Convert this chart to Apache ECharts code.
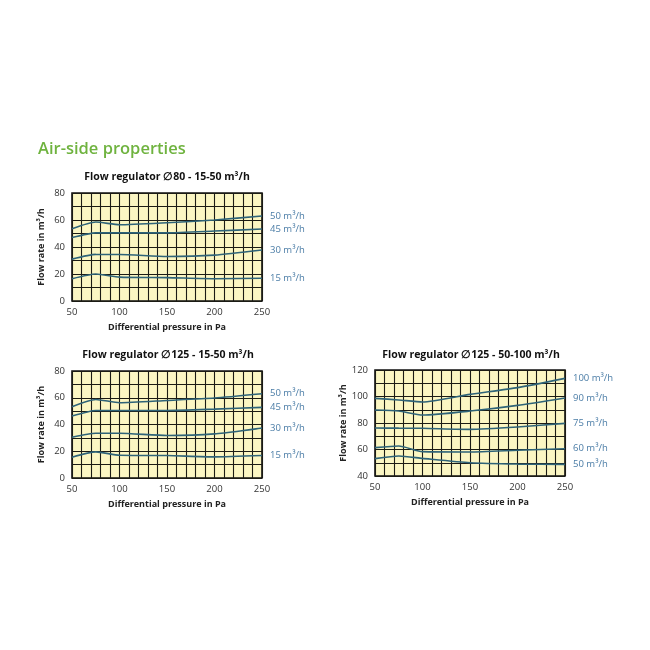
<!DOCTYPE html>
<html lang="en">
<head>
    <meta charset="UTF-8">
    <title>Air-side properties</title>
    <style>
        html, body { margin: 0; padding: 0; background: #fff; }
    </style>
</head>
<body>
<div id='main' style="height: 650px;width: 650px"></div>
</body>
<script src="https://cdn.jsdelivr.net/npm/echarts@6.0.0/dist/echarts.min.js"></script>
<script>
    // pressure points (Pa)
    var pressure = [50, 75, 100, 150, 200, 250];

    // Flow regulator 80 - 15-50 m3/h
    var c1Names = ['50 m³/h', '45 m³/h', '30 m³/h', '15 m³/h'];
    var c1_50 = [53.5, 58.5, 56.5, 58, 60, 63];
    var c1_45 = [47, 50.5, 50.5, 50.5, 51.8, 53.3];
    var c1_30 = [31, 34.5, 34.5, 33, 34, 37.8];
    var c1_15 = [16.5, 20, 17.7, 17.3, 16.5, 16.8];

    // Flow regulator 125 - 15-50 m3/h
    var c2Names = ['50 m³/h', '45 m³/h', '30 m³/h', '15 m³/h'];
    var c2_50 = [53.3, 58.7, 56.3, 58, 59.8, 63];
    var c2_45 = [46.3, 50.5, 50.5, 50.5, 51.5, 52.8];
    var c2_30 = [30.5, 33.5, 33.5, 31.8, 33, 37.3];
    var c2_15 = [15.5, 19.5, 17, 16.8, 15.8, 16.8];

    // Flow regulator 125 - 50-100 m3/h
    var c3Names = ['100 m³/h', '90 m³/h', '75 m³/h', '60 m³/h', '50 m³/h'];
    var c3_100 = [98.6, 97.4, 95.8, 101.6, 106.7, 113.7];
    var c3_90 = [89.8, 89, 86, 89, 93.3, 98.9];
    var c3_75 = [76.2, 76.1, 76, 75.2, 77, 79.7];
    var c3_60 = [61.4, 62.6, 58.4, 58.1, 59.4, 60.6];
    var c3_50 = [53.1, 55.1, 53.3, 50, 49, 48.8];

    var FONT = 'Open Sans';
    var lineColor = '#2e6378';
    var labelColor = '#4a7ca6';
    var gridLine = {show: true, lineStyle: {color: '#1b1b14', width: 1.1}};

    function pairs(ys) {
        return pressure.map(function (p, i) { return [p, ys[i]]; });
    }

    function xAxisFor(idx) {
        return {
            gridIndex: idx, type: 'value', min: 50, max: 250, interval: 50,
            name: 'Differential pressure in Pa', nameLocation: 'middle', nameGap: 22,
            nameTextStyle: {fontFamily: FONT, fontWeight: 'bold', fontSize: 9, color: '#222'},
            axisLine: {show: false}, axisTick: {show: false},
            axisLabel: {fontFamily: FONT, fontSize: 9.5, color: '#333', margin: 6},
            splitLine: gridLine,
            minorTick: {show: false, splitNumber: 5},
            minorSplitLine: gridLine
        };
    }

    function yAxisFor(idx, min, max) {
        return {
            gridIndex: idx, type: 'value', min: min, max: max, interval: 20,
            name: 'Flow rate in m³/h', nameLocation: 'middle', nameGap: 26,
            nameTextStyle: {fontFamily: FONT, fontWeight: 'bold', fontSize: 9, color: '#222'},
            axisLine: {show: false}, axisTick: {show: false},
            axisLabel: {fontFamily: FONT, fontSize: 9.5, color: '#333', margin: 7},
            splitLine: gridLine,
            minorTick: {show: false, splitNumber: 2},
            minorSplitLine: gridLine
        };
    }

    function curve(idx, name, ys) {
        return {
            type: 'line', name: name, xAxisIndex: idx, yAxisIndex: idx,
            data: pairs(ys), symbol: 'none', smooth: 0.2,
            lineStyle: {color: lineColor, width: 1.6},
            endLabel: {
                show: true, formatter: name, distance: 8,
                fontFamily: FONT, fontSize: 9.5, color: labelColor
            },
            z: 5
        };
    }

    var myChart = echarts.init(document.getElementById('main'));

    var gridStyle = {show: true, backgroundColor: '#fbf6c3', borderColor: '#111', borderWidth: 1.6};
    var subTitle = {fontFamily: FONT, fontSize: 10.5, fontWeight: 'bold', color: '#111'};

    var option = {
        animation: false,
        title: [
            {text: 'Air-side properties', left: 38, top: 141, padding: 0,
                textStyle: {fontFamily: FONT, fontSize: 16.5, fontWeight: 600, color: '#6fb33f'}},
            {text: 'Flow regulator ∅80 - 15-50 m³/h', left: 167, top: 172, padding: 0,
                textAlign: 'center', textStyle: subTitle},
            {text: 'Flow regulator ∅125 - 15-50 m³/h', left: 168, top: 350, padding: 0,
                textAlign: 'center', textStyle: subTitle},
            {text: 'Flow regulator ∅125 - 50-100 m³/h', left: 471, top: 350, padding: 0,
                textAlign: 'center', textStyle: subTitle}
        ],
        grid: [
            Object.assign({left: 72, top: 193, width: 190, height: 108}, gridStyle),
            Object.assign({left: 72, top: 371, width: 190, height: 107}, gridStyle),
            Object.assign({left: 375, top: 370, width: 190, height: 106}, gridStyle)
        ],
        xAxis: [xAxisFor(0), xAxisFor(1), xAxisFor(2)],
        yAxis: [yAxisFor(0, 0, 80), yAxisFor(1, 0, 80), yAxisFor(2, 40, 120)],
        series: [
            curve(0, c1Names[0], c1_50),
            curve(0, c1Names[1], c1_45),
            curve(0, c1Names[2], c1_30),
            curve(0, c1Names[3], c1_15),
            curve(1, c2Names[0], c2_50),
            curve(1, c2Names[1], c2_45),
            curve(1, c2Names[2], c2_30),
            curve(1, c2Names[3], c2_15),
            curve(2, c3Names[0], c3_100),
            curve(2, c3Names[1], c3_90),
            curve(2, c3Names[2], c3_75),
            curve(2, c3Names[3], c3_60),
            curve(2, c3Names[4], c3_50)
        ]
    };
    myChart.setOption(option);
</script>
</html>
